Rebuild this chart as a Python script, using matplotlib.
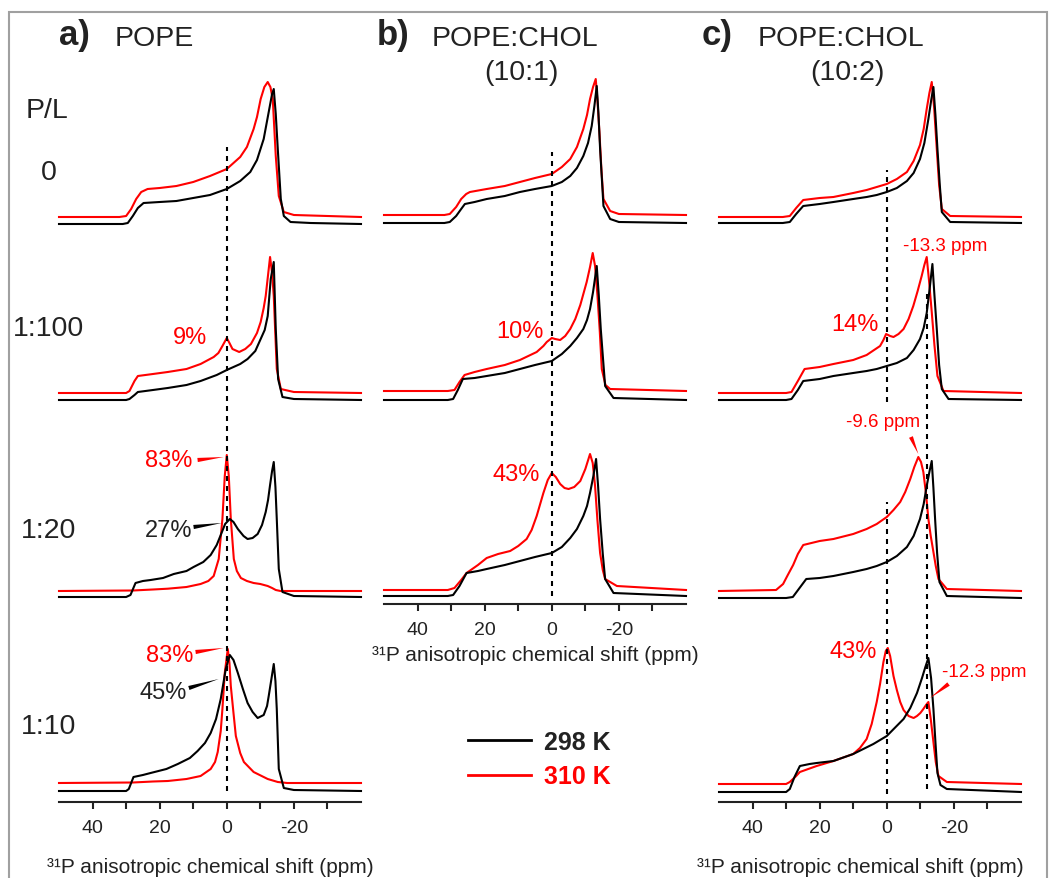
import matplotlib.pyplot as plt
from matplotlib.patches import Rectangle
import numpy as np

plt.rcParams['font.family'] = ['Liberation Sans', 'DejaVu Sans']
plt.rcParams['axes.unicode_minus'] = False

# ---- spectra: ppm positions and heights above baseline ----
# panel a) POPE
a0_298_x = [50, 31, 29.5, 28, 26.5, 24.8, 20, 15, 10, 5, 0, -4, -7, -9, -11, -12.5, -13.5, -14, -14.6, -15.2, -16.1, -17, -19, -25, -40]
a0_298_y = [0, 0, 1, 8, 16, 21, 22, 23, 26, 29, 35, 43, 52, 64, 85, 112, 130, 135, 110, 75, 25, 8, 2, 1, 0]
a0_310_x = [50, 32, 30, 28.5, 27, 25.5, 23.6, 20, 15, 10, 5, 0, -4, -6, -8, -9, -10.1, -11.2, -12.2, -13, -13.7, -14.6, -15.5, -17, -20, -40]
a0_310_y = [0, 0, 1, 8, 18, 25, 28, 29, 31, 35, 41, 48, 60, 70, 88, 100, 118, 130, 135, 130, 118, 61, 21, 5, 2, 0]

a1_298_x = [50, 30, 29, 27.5, 26.5, 22, 17.6, 12, 7.8, 3, 0, -2, -4, -6.2, -8.5, -10.1, -11.3, -12.2, -13.1, -14, -14.6, -15.3, -16.6, -20, -40]
a1_298_y = [0, 0, 1, 5, 8, 10, 12, 15, 19, 25, 30, 33, 36, 41, 49, 61, 70, 84, 121, 138, 71, 21, 3, 1, 0]
a1_310_x = [50, 30, 29, 27.5, 26.5, 22, 17.6, 12, 7.8, 3.9, 2.5, 1.3, 0, -0.8, -1.7, -3.7, -5.5, -7.2, -9, -10.1, -11, -11.6, -12.3, -12.9, -13.5, -14, -14.9, -16.1, -20, -40]
a1_310_y = [0, 0, 2, 12, 17, 19, 21, 24, 29, 36, 40, 47, 55, 50, 44, 41, 44, 49, 60, 71, 85, 97, 118, 136, 120, 97, 24, 4, 1, 0]

a2_298_x = [50, 30, 28.7, 27.2, 25, 22.7, 19, 15.8, 12, 9.9, 7, 4.8, 3, 1.8, 0.5, -0.9, -2, -3.3, -5, -6.2, -7.7, -9.2, -10.5, -11.6, -12.3, -12.9, -13.5, -14, -14.5, -14.9, -15.5, -16.6, -20, -40]
a2_298_y = [0, 0, 2, 14, 16, 17, 19, 23, 26, 30, 35, 42, 52, 62, 73, 78, 75, 68, 61, 58, 59, 63, 72, 85, 97, 112, 126, 135, 110, 78, 28, 5, 1, 0]
a2_310_x = [50, 28, 22, 17.6, 12, 7.8, 5.5, 3.9, 2.4, 1.3, 0.6, 0, -0.6, -1.2, -2.1, -3, -4.2, -6, -8, -10, -12.2, -13.5, -14.6, -16, -40]
a2_310_y = [0, 0.5, 1.5, 2.3, 4, 7, 10, 15, 32, 72, 115, 136, 115, 72, 32, 20, 13, 10, 8, 7, 5, 3, 1, 0, 0]

a3_298_x = [50, 30, 29.2, 27.8, 25, 22.7, 18, 14.6, 11, 8.7, 6.5, 4.8, 3.2, 1.8, 0.3, -0.9, -2, -3.3, -4.8, -6.2, -7.7, -9.2, -11, -12, -12.5, -13.3, -14, -14.5, -14.9, -15.5, -17, -20, -40]
a3_298_y = [0, 0, 2, 14, 16, 18, 22, 27, 33, 40, 48, 58, 72, 92, 122, 136, 131, 118, 102, 88, 79, 73, 76, 85, 95, 112, 127, 110, 82, 22, 3, 1, 0]
a3_310_x = [50, 28, 22, 17.6, 12, 7.8, 4.8, 3.5, 2.7, 1.8, 1.3, 0.6, -0.3, -0.8, -1.2, -2, -2.7, -4, -5.1, -8, -12.2, -15.2, -18, -40]
a3_310_y = [0, 0.5, 1.5, 2, 4, 7, 14, 21, 31, 52, 74, 110, 134, 120, 97, 70, 47, 30, 21, 11, 4, 1, 0, 0]

# panel b) POPE:CHOL (10:1)
b0_298_x = [50, 32, 30.4, 28.5, 27, 25.9, 23, 19.4, 14, 9.5, 5, 0, -3, -5.5, -7.5, -9.4, -10.8, -11.9, -12.7, -13.4, -13.9, -14.4, -15, -15.4, -17.4, -20, -40]
b0_298_y = [0, 0, 1, 7, 14, 19, 21, 24, 27, 31, 34, 37, 41, 47, 55, 67, 80, 97, 117, 137, 110, 74, 40, 17, 4, 1, 0]
b0_310_x = [50, 32, 30.4, 28.5, 27, 25.5, 24.4, 19.4, 14, 9.5, 5, 0, -3, -5.5, -7.5, -9.4, -10.5, -11.4, -12.3, -13.1, -13.6, -14.2, -14.8, -15.4, -17.4, -20, -40]
b0_310_y = [0, 0, 1, 8, 16, 21, 23, 26, 29, 33, 37, 41, 48, 56, 68, 86, 100, 116, 128, 136, 115, 83, 45, 16, 4, 1, 0]

b1_298_x = [50, 31, 29.4, 28, 26.5, 23, 19.4, 14, 9.5, 5, 0, -3, -5.5, -7.5, -9.4, -10.5, -11.4, -12.3, -13.4, -14, -14.6, -15.3, -15.9, -18.4, -40]
b1_298_y = [0, 0, 1, 10, 21, 22, 24, 27, 31, 35, 39, 46, 54, 62, 71, 80, 91, 108, 134, 105, 71, 40, 14, 2, 0]
b1_310_x = [50, 31, 29, 27.5, 26, 23, 19.4, 14, 9.5, 4.5, 2.5, 1.5, 0, -1, -2.5, -4, -5.5, -7, -8.5, -10.4, -11.4, -12.2, -12.9, -13.6, -14.3, -14.9, -16, -17.4, -40]
b1_310_y = [0, 0, 1, 9, 16, 19, 22, 26, 31, 39, 45, 49, 53, 52, 51, 55, 62, 72, 86, 109, 124, 138, 125, 96, 60, 22, 6, 2, 0]

b2_298_x = [50, 31, 29.4, 27.5, 25.4, 22, 19.4, 14, 9.5, 5, 0, -3, -5.5, -7.5, -9.4, -10.5, -11.4, -12.4, -13.2, -13.8, -14.4, -15.2, -15.9, -18.4, -40]
b2_298_y = [0, 0, 1, 10, 23, 25, 27, 31, 35, 39, 43, 49, 58, 67, 80, 90, 103, 120, 137, 110, 77, 42, 17, 3, 0]
b2_310_x = [50, 31, 29, 27, 25.4, 22, 19.4, 16, 12.4, 10, 7.5, 6, 4.5, 2.5, 1.2, 0, -1.2, -2.5, -3.8, -5, -6.7, -8.5, -10, -11.4, -12.2, -12.9, -13.6, -14.4, -15.2, -15.9, -19.4, -40]
b2_310_y = [0, 0, 2, 10, 17, 25, 32, 36, 39, 44, 51, 60, 74, 97, 110, 117, 113, 106, 102, 101, 103, 109, 121, 136, 127, 104, 70, 37, 20, 11, 4, 0]

# panel c) POPE:CHOL (10:2)
c0_298_x = [50, 31, 28.9, 27, 24.9, 20, 15.9, 10, 6, 3, 0, -3, -6, -8, -9.9, -11.2, -12.4, -13.2, -13.9, -14.5, -15.1, -15.8, -16.4, -18.9, -40]
c0_298_y = [0, 0, 1, 9, 17, 19, 21, 24, 26, 28, 31, 35, 42, 50, 64, 80, 104, 122, 136, 108, 74, 38, 11, 1, 0]
c0_310_x = [50, 31, 28.9, 27, 24.9, 20, 15.9, 10, 6, 3, 0, -3, -6, -8, -9.9, -11, -11.9, -12.7, -13.4, -14.1, -14.9, -15.6, -16.4, -18.9, -40]
c0_310_y = [0, 0, 1, 9, 17, 19, 20, 24, 27, 30, 33, 38, 45, 56, 72, 88, 108, 124, 135, 110, 68, 32, 8, 1, 0]

c1_298_x = [50, 30, 28.4, 26.5, 24.9, 20, 15.9, 10, 6, 3, 0, -3, -6, -8, -9.9, -11, -11.9, -12.8, -13.6, -14.2, -14.9, -15.6, -16.4, -18.4, -40]
c1_298_y = [0, 0, 1, 10, 19, 21, 24, 27, 29, 31, 34, 37, 42, 50, 61, 72, 87, 112, 136, 105, 71, 35, 11, 1, 0]
c1_310_x = [50, 30, 28.4, 26.5, 24.5, 20, 15.9, 10, 6, 2, 1, 0.2, -1, -2, -3.5, -5, -6.5, -7.9, -9.2, -10.4, -11.2, -11.9, -12.6, -13.4, -14.2, -15.1, -16.9, -40]
c1_310_y = [0, 0, 1, 12, 24, 26, 29, 33, 38, 47, 53, 59, 57, 56, 59, 64, 74, 87, 102, 117, 128, 136, 112, 81, 48, 17, 2, 0]

c2_298_x = [50, 30, 28, 26, 24, 20, 15.9, 10, 6, 3, 0, -3, -6, -8, -9.9, -11, -11.9, -12.7, -13.4, -13.9, -14.4, -15, -15.7, -17.9, -40]
c2_298_y = [0, 0, 1, 10, 19, 20, 22, 26, 29, 32, 36, 42, 51, 62, 79, 94, 112, 126, 137, 110, 79, 45, 16, 2, 0]
c2_310_x = [50, 33, 30.9, 29.5, 27.9, 26.5, 24.9, 20, 15.9, 10, 6, 3, 0, -2, -4, -5.5, -7, -8.2, -9.4, -10.2, -10.9, -11.7, -12.4, -13.1, -13.9, -14.6, -15.4, -17.9, -40]
c2_310_y = [0, 1, 7, 16, 26, 37, 46, 50, 52, 57, 62, 67, 74, 81, 89, 99, 112, 124, 134, 129, 119, 97, 72, 55, 39, 25, 12, 2, 0]

c3_298_x = [50, 30, 28.9, 27.5, 25.9, 23, 20.9, 15.9, 10, 4, 0, -5, -7, -9, -10.5, -11.5, -12.4, -13.2, -13.9, -14.5, -15.1, -16, -17.9, -40]
c3_298_y = [0, 0, 3, 15, 26, 28, 29, 31, 38, 48, 56, 73, 84, 99, 114, 125, 134, 114, 83, 50, 19, 7, 3, 0]
c3_310_x = [50, 30, 28.9, 27, 25.9, 20.9, 15.9, 10, 8, 6, 4.5, 3, 2, 1, 0.3, -0.3, -1, -2, -3, -4, -5, -6.5, -8, -9, -10, -10.9, -11.7, -12.4, -13.1, -13.9, -14.6, -15.4, -17.9, -40]
c3_310_y = [0, 0, 2, 8, 12, 18, 23, 30, 36, 45, 60, 82, 100, 122, 133, 136, 128, 108, 94, 82, 74, 68, 66, 68, 71, 75, 79, 82, 65, 42, 22, 8, 2, 0]

row_labels = ['0', '1:100', '1:20', '1:10']
temps = ['298 K', '310 K']
ref_ppm_a = [0]
ref_ppm_c = [0, -12]

W, H = 1052, 879
fig = plt.figure(figsize=(W / 100, H / 100), dpi=100)
TXT = '#222222'


def fx(x):
    return x / W


def fy(y):
    return 1 - y / H


def make_ax(left, axis_y, top=70):
    ax = fig.add_axes([fx(left), fy(axis_y), 302 / W, (axis_y - top) / H])
    ax.set_xlim(50, -40)
    ax.set_ylim(0, axis_y - top)
    ax.patch.set_visible(False)
    for s in ['top', 'left', 'right']:
        ax.spines[s].set_visible(False)
    ax.spines['bottom'].set_linewidth(1.5)
    ax.spines['bottom'].set_color(TXT)
    ax.set_yticks([])
    ax.set_xticks([40, 20, 0, -20])
    ax.set_xticks([30, 10, -10, -30], minor=True)
    ax.tick_params(axis='x', which='both', direction='out', length=5, width=1.5,
                   color=TXT, labelcolor=TXT, labelsize=14, pad=7)
    return ax


ax_a = make_ax(59, 803)
ax_b = make_ax(384, 605)
ax_c = make_ax(719, 803)

panels = [
    (ax_a, [(a0_298_x, a0_298_y, a0_310_x, a0_310_y), (a1_298_x, a1_298_y, a1_310_x, a1_310_y),
            (a2_298_x, a2_298_y, a2_310_x, a2_310_y), (a3_298_x, a3_298_y, a3_310_x, a3_310_y)],
     [578, 402, 205, 11], [585, 409, 211, 19]),
    (ax_b, [(b0_298_x, b0_298_y, b0_310_x, b0_310_y), (b1_298_x, b1_298_y, b1_310_x, b1_310_y),
            (b2_298_x, b2_298_y, b2_310_x, b2_310_y)],
     [381, 204, 8], [389, 213, 14]),
    (ax_c, [(c0_298_x, c0_298_y, c0_310_x, c0_310_y), (c1_298_x, c1_298_y, c1_310_x, c1_310_y),
            (c2_298_x, c2_298_y, c2_310_x, c2_310_y), (c3_298_x, c3_298_y, c3_310_x, c3_310_y)],
     [579, 402, 204, 10], [585, 409, 211, 18]),
]

handles = None
for ax, rows, off_k, off_r in panels:
    for (xk, yk, xr, yr), ok, orr in zip(rows, off_k, off_r):
        lr, = ax.plot(xr, np.array(yr) + orr, color='red', lw=1.5, clip_on=False)
        lk, = ax.plot(xk, np.array(yk) + ok, color='black', lw=1.5, clip_on=False)
        if handles is None:
            handles = [lk, lr]

# dashed reference lines
dash = (0, (2.4, 2.4))
ax_a.vlines(ref_ppm_a[0], 11, 655, colors='black', lw=1.5, linestyles=[dash], zorder=5)
ax_b.vlines(ref_ppm_a[0], 8, 452, colors='black', lw=1.5, linestyles=[dash], zorder=5)
ax_c.vlines(ref_ppm_c[0], 400, 632, colors='black', lw=1.5, linestyles=[dash], zorder=5)
ax_c.vlines(ref_ppm_c[0], 8, 300, colors='black', lw=1.5, linestyles=[dash], zorder=5)
ax_c.vlines(ref_ppm_c[1], 13, 513, colors='black', lw=1.5, linestyles=[dash], zorder=5)

# panel titles
TS = 20.5
fig.text(fx(59), fy(45), 'a)', fontsize=25, fontweight='bold', color=TXT, va='baseline')
fig.text(fx(115), fy(46), 'POPE', fontsize=TS, color=TXT, va='baseline')
fig.text(fx(377), fy(45), 'b)', fontsize=25, fontweight='bold', color=TXT, va='baseline')
fig.text(fx(432), fy(46), 'POPE:CHOL', fontsize=TS, color=TXT, va='baseline')
fig.text(fx(521), fy(80), '(10:1)', fontsize=TS, color=TXT, va='baseline', ha='center')
fig.text(fx(702), fy(45), 'c)', fontsize=25, fontweight='bold', color=TXT, va='baseline')
fig.text(fx(758), fy(46), 'POPE:CHOL', fontsize=TS, color=TXT, va='baseline')
fig.text(fx(847), fy(80), '(10:2)', fontsize=TS, color=TXT, va='baseline', ha='center')

# P/L labels
fig.text(fx(26), fy(118), 'P/L', fontsize=TS, color=TXT, va='baseline')
for lab, yb in zip(row_labels, [180, 336, 538, 734]):
    fig.text(fx(48.5), fy(yb), lab, fontsize=TS, color=TXT, va='baseline', ha='center')

# percentage labels
PS = 17
fig.text(fx(190), fy(344), '9%', fontsize=PS, color='red', va='baseline', ha='center')
fig.text(fx(192), fy(467), '83%', fontsize=PS, color='red', va='baseline', ha='right')
fig.text(fx(192), fy(537), '27%', fontsize=PS, color=TXT, va='baseline', ha='right')
fig.text(fx(193), fy(662), '83%', fontsize=PS, color='red', va='baseline', ha='right')
fig.text(fx(187), fy(699), '45%', fontsize=PS, color=TXT, va='baseline', ha='right')
fig.text(fx(520), fy(338), '10%', fontsize=PS, color='red', va='baseline', ha='center')
fig.text(fx(516), fy(481), '43%', fontsize=PS, color='red', va='baseline', ha='center')
fig.text(fx(855), fy(331), '14%', fontsize=PS, color='red', va='baseline', ha='center')
fig.text(fx(853), fy(658), '43%', fontsize=PS, color='red', va='baseline', ha='center')
fig.text(fx(945), fy(251), '-13.3 ppm', fontsize=13.5, color='red', va='baseline', ha='center')
fig.text(fx(883), fy(427), '-9.6 ppm', fontsize=13.5, color='red', va='baseline', ha='center')
fig.text(fx(984), fy(677), '-12.3 ppm', fontsize=13.5, color='red', va='baseline', ha='center')

# wedge leaders (tail at label, point at peak)
def leader(ax, tail, head, color):
    ax.annotate('', xy=head, xytext=tail,
                arrowprops=dict(arrowstyle='wedge,tail_width=0.3,shrink_factor=0.5',
                                color=color, lw=0, shrinkA=0, shrinkB=0), annotation_clip=False)


leader(ax_a, (8.7, 342), (0.9, 345), 'red')
leader(ax_a, (9.9, 275), (1.5, 279), 'black')
leader(ax_a, (9.3, 150), (0.9, 154), 'red')
leader(ax_a, (11.3, 114), (2.4, 123), 'black')
leader(ax_c, (-7.2, 365), (-9.4, 348), 'red')
leader(ax_c, (-18.4, 118), (-12.9, 104), 'red')

# axis titles
xl = '\u00b3\u00b9P anisotropic chemical shift (ppm)'
for xc, yb in [(210, 873), (535, 661), (860, 873)]:
    fig.text(fx(xc), fy(yb), xl, fontsize=15, color=TXT, va='baseline', ha='center')

# legend
leg = fig.legend(handles, temps, loc='center left', bbox_to_anchor=(fx(468), fy(760)),
                 frameon=False, handlelength=2.5, handletextpad=0.55, labelspacing=0.42,
                 borderpad=0, borderaxespad=0,
                 prop={'size': 18, 'weight': 'bold'}, labelcolor=[TXT, 'red'])
for ln in leg.get_lines():
    ln.set_linewidth(2)

# outer frame
fig.add_artist(Rectangle((fx(9), -0.02), (1047 - 9) / W, 1.02 - 13 / H, transform=fig.transFigure,
                         fill=False, edgecolor='#a0a0a0', lw=1.5))

fig.savefig('out.png', dpi=100)
